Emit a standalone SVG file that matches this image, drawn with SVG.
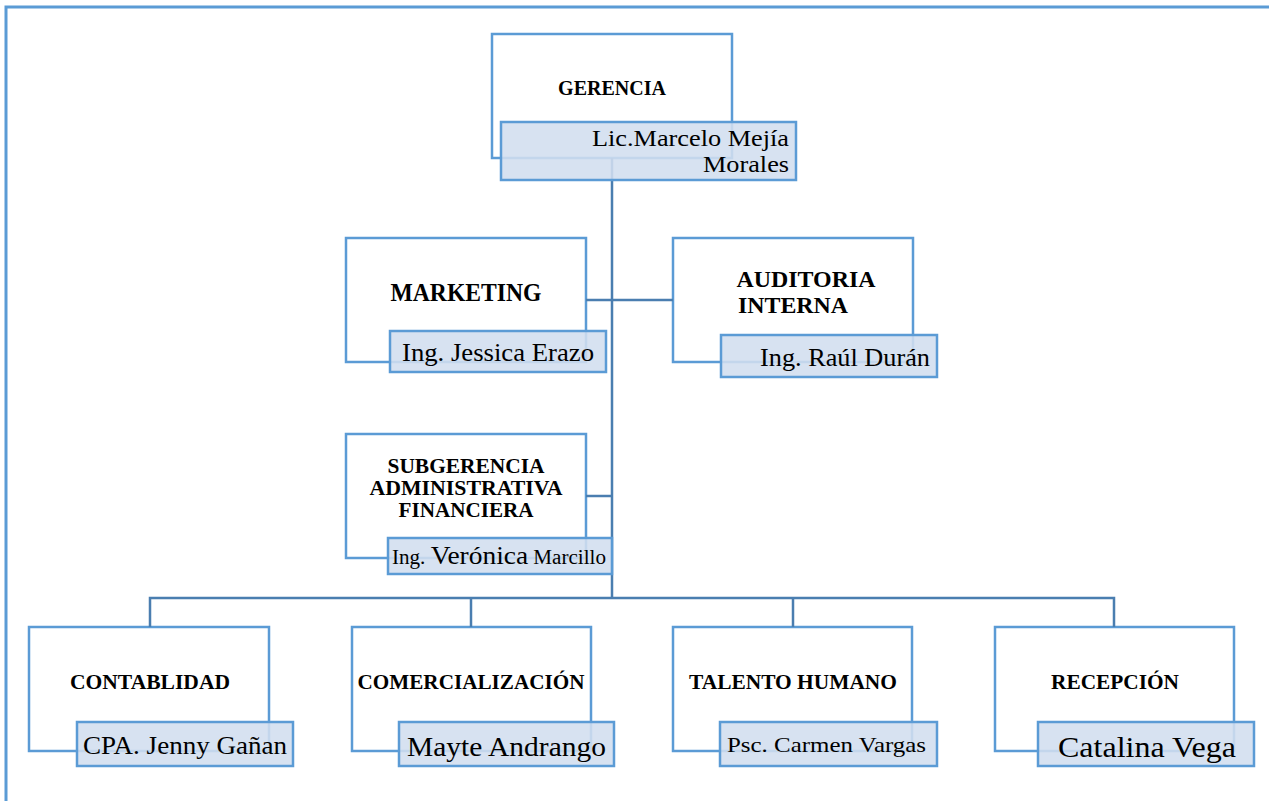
<svg xmlns="http://www.w3.org/2000/svg" width="1269" height="801" viewBox="0 0 1269 801">
<style>
.frame{fill:none;stroke:#5B9BD5;stroke-width:3}
.box{fill:#fff;stroke:#5B9BD5;stroke-width:2.5}
.name{fill:#D2DEEF;fill-opacity:0.88;stroke:#5B9BD5;stroke-width:2.5}
.con{fill:none;stroke:#4A7EB0;stroke-width:2.5}
.t{font-family:"Liberation Serif","Times New Roman",serif;font-weight:bold;fill:#000;text-anchor:middle}
.n{font-family:"Liberation Serif","Times New Roman",serif;fill:#000}
</style>
<rect width="1269" height="801" fill="#fff"/>
<path class="frame" d="M6,801 V7 H1269"/>

<g id="boxes-bg">
<rect class="box" x="492" y="34" width="240" height="124"/>
<rect class="box" x="346" y="238" width="240" height="124"/>
<rect class="box" x="673" y="238" width="240" height="124"/>
<rect class="box" x="346" y="434" width="240" height="124"/>
<rect class="box" x="29" y="627" width="240" height="124"/>
<rect class="box" x="352" y="627" width="239" height="124"/>
<rect class="box" x="673" y="627" width="239" height="124"/>
<rect class="box" x="995" y="627" width="239" height="124"/>
</g>

<g id="connectors">
<path class="con" d="M612,158 V598"/>
<path class="con" d="M586,300 H673"/>
<path class="con" d="M586,496 H612"/>
<path class="con" d="M150,627 V598 H1114 V627"/>
<path class="con" d="M471,598 V627"/>
<path class="con" d="M793,598 V627"/>
</g>

<g id="gerencia">
<text class="t" x="612" y="95" font-size="20">GERENCIA</text>
<rect class="name" x="501" y="122" width="295" height="58"/>
<text class="n" x="789" y="146" font-size="24" text-anchor="end" textLength="197" lengthAdjust="spacingAndGlyphs">Lic.Marcelo Mejía</text>
<text class="n" x="789" y="172" font-size="24" text-anchor="end" textLength="86" lengthAdjust="spacingAndGlyphs">Morales</text>
</g>

<g id="marketing">
<text class="t" x="466" y="301" font-size="25" textLength="151" lengthAdjust="spacingAndGlyphs">MARKETING</text>
<rect class="name" x="390" y="331" width="216" height="41"/>
<text class="n" x="402" y="361" font-size="25" textLength="192" lengthAdjust="spacingAndGlyphs">Ing. Jessica Erazo</text>
</g>

<g id="auditoria">
<text class="t" x="806" y="287" font-size="24" textLength="139" lengthAdjust="spacingAndGlyphs">AUDITORIA</text>
<text class="t" x="793" y="313" font-size="24" textLength="110" lengthAdjust="spacingAndGlyphs">INTERNA</text>
<rect class="name" x="721" y="335" width="216" height="42"/>
<text class="n" x="760" y="366" font-size="25" textLength="170" lengthAdjust="spacingAndGlyphs">Ing. Raúl Durán</text>
</g>

<g id="subgerencia">
<text class="t" x="466" y="473" font-size="21" textLength="157" lengthAdjust="spacingAndGlyphs">SUBGERENCIA</text>
<text class="t" x="466" y="495" font-size="21" textLength="193" lengthAdjust="spacingAndGlyphs">ADMINISTRATIVA</text>
<text class="t" x="466" y="517" font-size="21" textLength="135" lengthAdjust="spacingAndGlyphs">FINANCIERA</text>
<rect class="name" x="388" y="538" width="224" height="36"/>
<text class="n" x="392" y="564" font-size="20" textLength="214" lengthAdjust="spacingAndGlyphs">Ing. <tspan font-size="26">Verónica</tspan> Marcillo</text>
</g>

<g id="contabilidad">
<text class="t" x="150" y="689" font-size="21" textLength="160" lengthAdjust="spacingAndGlyphs">CONTABLIDAD</text>
<rect class="name" x="77" y="722" width="216" height="44"/>
<text class="n" x="83" y="754" font-size="25" textLength="204" lengthAdjust="spacingAndGlyphs">CPA. Jenny Gañan</text>
</g>

<g id="comercializacion">
<text class="t" x="471" y="689" font-size="21" textLength="227" lengthAdjust="spacingAndGlyphs">COMERCIALIZACIÓN</text>
<rect class="name" x="399" y="722" width="215" height="44"/>
<text class="n" x="407" y="756" font-size="28" textLength="199" lengthAdjust="spacingAndGlyphs">Mayte Andrango</text>
</g>

<g id="talento">
<text class="t" x="793" y="689" font-size="21" textLength="208" lengthAdjust="spacingAndGlyphs">TALENTO HUMANO</text>
<rect class="name" x="720" y="722" width="217" height="44"/>
<text class="n" x="727" y="752" font-size="22" textLength="199" lengthAdjust="spacingAndGlyphs">Psc. Carmen Vargas</text>
</g>

<g id="recepcion">
<text class="t" x="1115" y="689" font-size="21" textLength="128" lengthAdjust="spacingAndGlyphs">RECEPCIÓN</text>
<rect class="name" x="1038" y="722" width="216" height="44"/>
<text class="n" x="1058" y="757" font-size="30" textLength="178" lengthAdjust="spacingAndGlyphs">Catalina Vega</text>
</g>
</svg>
